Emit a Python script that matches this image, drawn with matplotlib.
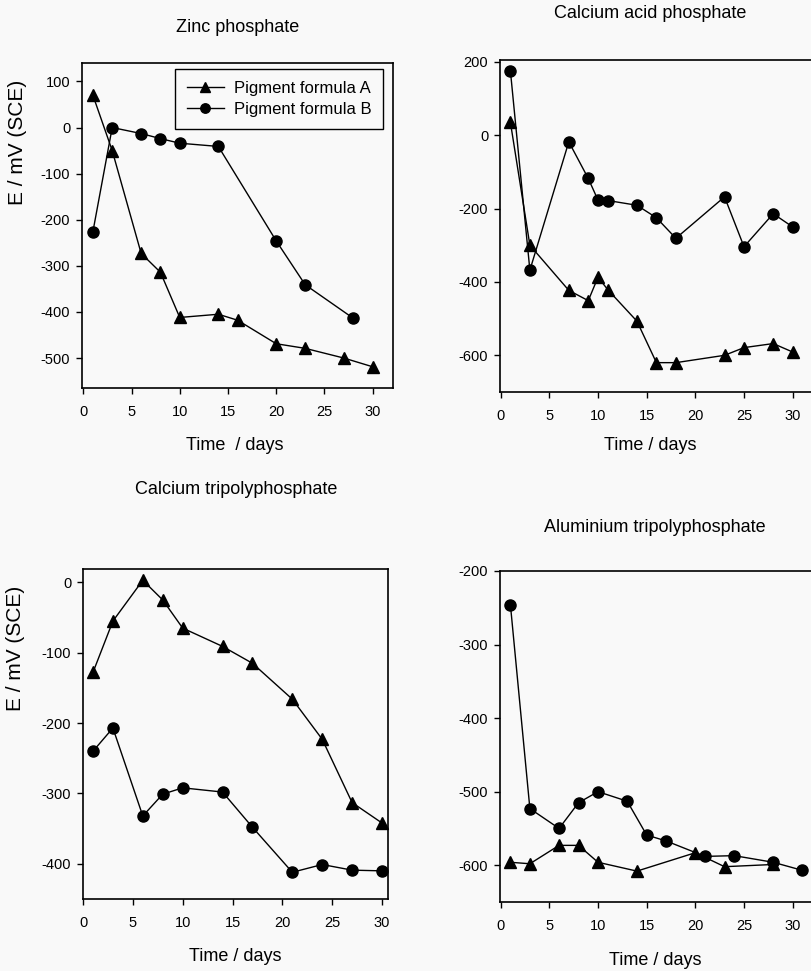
import matplotlib
matplotlib.use("Agg")
import matplotlib.pyplot as plt

plt.rcParams['font.family'] = ['Liberation Sans', 'DejaVu Sans']
plt.rcParams['axes.unicode_minus'] = False   # scan uses a short hyphen minus

#---------------------------------DATA
# Zinc phosphate
zinc_days_a = [1, 3, 6, 8, 10, 14, 16, 20, 23, 27, 30]
zinc_a = [70, -50, -273, -314, -412, -405, -418, -469, -479, -500, -519]
zinc_days_b = [1, 3, 6, 8, 10, 14, 20, 23, 28]
zinc_b = [-226, 0, -13, -24, -34, -41, -246, -341, -414]

# Calcium acid phosphate
cap_days = [1, 3, 7, 9, 10, 11, 14, 16, 18, 23, 25, 28, 30]
cap_a = [35, -300, -423, -451, -387, -421, -507, -620, -620, -600, -579, -568, -591]
cap_b = [175, -368, -18, -118, -177, -178, -191, -225, -281, -168, -304, -214, -250]

# Calcium tripolyphosphate
ctp_days = [1, 3, 6, 8, 10, 14, 17, 21, 24, 27, 30]
ctp_a = [-128, -55, 3, -25, -65, -91, -115, -166, -223, -313, -342]
ctp_b = [-240, -207, -332, -301, -292, -298, -348, -412, -401, -409, -410]

# Aluminium tripolyphosphate
atp_days_a = [1, 3, 6, 8, 10, 14, 20, 23, 28]
atp_a = [-596, -598, -573, -573, -596, -608, -583, -602, -599]
atp_days_b = [1, 3, 6, 8, 10, 13, 15, 17, 21, 24, 28, 31]
atp_b = [-246, -523, -550, -515, -500, -513, -559, -567, -588, -587, -596, -607]

titles = ["Zinc phosphate", "Calcium acid phosphate",
          "Calcium tripolyphosphate", "Aluminium tripolyphosphate"]
x_ticks = [0, 5, 10, 15, 20, 25, 30]

#---------------------------------FIGURE SET UP
W, H = 811, 971
bg = '#f9f9f9'
fig = plt.figure(figsize=(W / 100, H / 100), dpi=100, facecolor=bg)

def make_axes(left, top, right, bottom):
    # pixel box -> figure fraction
    ax = fig.add_axes([left / W, (H - bottom) / H, (right - left) / W, (bottom - top) / H])
    ax.set_facecolor(bg)
    for s in ax.spines.values():
        s.set_linewidth(1.2)
        s.set_color('black')
    ax.tick_params(direction='out', length=4, width=1, labelsize=10.5, colors='black')
    ax.tick_params(axis='x', pad=8.5)
    ax.tick_params(axis='y', pad=4.5)
    ax.set_xticks(x_ticks)
    return ax

def draw(ax, da, a, db, b):
    ax.plot(da, a, color='black', lw=1, marker='^', ms=8, label='Pigment formula A', clip_on=False)
    ax.plot(db, b, color='black', lw=1, marker='o', ms=8, label='Pigment formula B', clip_on=False)

ax1 = make_axes(82, 63, 393, 388)
ax2 = make_axes(500, 60, 817, 392)
ax3 = make_axes(83, 569, 388, 899)
ax4 = make_axes(500, 571, 817, 902)

draw(ax1, zinc_days_a, zinc_a, zinc_days_b, zinc_b)
draw(ax2, cap_days, cap_a, cap_days, cap_b)
draw(ax3, ctp_days, ctp_a, ctp_days, ctp_b)
draw(ax4, atp_days_a, atp_a, atp_days_b, atp_b)

#---------------------------------AXES LIMITS / TICKS
ax1.set_xlim(-0.13, 32.1)
ax1.set_ylim(-565, 140)
ax1.set_yticks(range(-500, 101, 100))

ax2.set_xlim(-0.07, 32.5)
ax2.set_ylim(-700, 205)
ax2.set_yticks(range(-600, 201, 200))

ax3.set_xlim(0, 30.6)
ax3.set_ylim(-450, 19)
ax3.set_yticks(range(-400, 1, 100))

ax4.set_xlim(-0.07, 32.5)
ax4.set_ylim(-650, -200)
ax4.set_yticks(range(-600, -199, 100))

#---------------------------------LABELS
ax1.set_ylabel('E / mV (SCE)', fontsize=15)
ax1.yaxis.set_label_coords(-0.177, 0.755)
ax3.set_ylabel('E / mV (SCE)', fontsize=15)
ax3.yaxis.set_label_coords(-0.19, 0.76)

fig.text(235 / W, 1 - 445 / H, 'Time  / days', ha='center', va='center', fontsize=13)
fig.text(650 / W, 1 - 445 / H, 'Time / days', ha='center', va='center', fontsize=13)
fig.text(235 / W, 1 - 956 / H, 'Time / days', ha='center', va='center', fontsize=13)
fig.text(655 / W, 1 - 960 / H, 'Time / days', ha='center', va='center', fontsize=13)

fig.text(238 / W, 1 - 28 / H, titles[0], ha='center', va='center', fontsize=13)
fig.text(650 / W, 1 - 13 / H, titles[1], ha='center', va='center', fontsize=13)
fig.text(236 / W, 1 - 490 / H, titles[2], ha='center', va='center', fontsize=13)
fig.text(655 / W, 1 - 527 / H, titles[3], ha='center', va='center', fontsize=13)

leg = ax1.legend(loc='upper right', bbox_to_anchor=(0.968, 0.98), borderaxespad=0,
                 fontsize=12, handlelength=2.2, handletextpad=0.6, borderpad=0.7,
                 labelspacing=0.35, fancybox=False, framealpha=1,
                 edgecolor='black', facecolor=bg, markerscale=0.85)
leg.get_frame().set_linewidth(1)

fig.savefig('out.png', dpi=100, facecolor=bg)
